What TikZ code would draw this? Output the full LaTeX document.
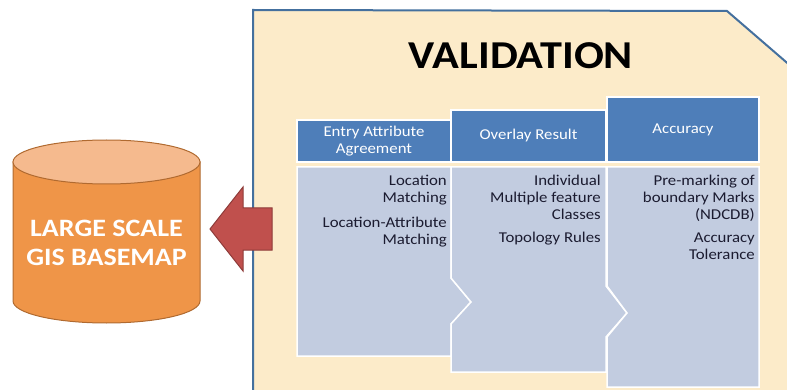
\documentclass[tikz,border=0pt]{standalone}
\usepackage{fontspec}
\setmainfont{Carlito}[FakeStretch=1.12]

\definecolor{panelfill}{HTML}{FCEBC9}
\definecolor{panelline}{HTML}{44709E}
\definecolor{headblue}{HTML}{4E7EB9}
\definecolor{bodyblue}{HTML}{C2CCE0}
\definecolor{itemtext}{HTML}{1B1B30}
\definecolor{cylbody}{HTML}{EF9548}
\definecolor{cyltop}{HTML}{F5BA8E}
\definecolor{cylline}{HTML}{B06A30}
\definecolor{arrowred}{HTML}{C0504D}
\definecolor{arrowline}{HTML}{8E3B39}

\begin{document}
\begin{tikzpicture}[x=1pt,y=-1pt,
  head/.style={fill=headblue,draw=white,line width=1.5pt,text=white,
    font=\fontsize{15}{17}\selectfont,align=center,inner sep=0pt},
  bodybox/.style={fill=bodyblue,draw=white,line width=1.5pt},
  item/.style={text=itemtext,font=\fontsize{15}{17}\selectfont,
    align=right,anchor=north east,inner sep=0pt}]
%\draw [help lines,black!20!white] (0,0) grid[step=50] (787,390);

\clip (0,0) rectangle (787,390);

\draw[fill=panelfill,draw=panelline,line width=2pt] (253,10) -- (727,11) -- (800,74) -- (800,400) -- (253,400) -- cycle;

\node (title) at (521,56) {\fontsize{39.5}{40}\selectfont\bfseries VALIDATION};

\draw[bodybox] (297,167) -- (451,167) -- (451,278) -- (471,302) -- (451,324) -- (451,356) -- (297,356) -- cycle;
\draw[bodybox] (451,167) -- (606,167) -- (606,286) -- (627,313) -- (606,337) -- (606,372) -- (451,372) -- (451,324) -- (471,302) -- (451,278) -- cycle;
\draw[bodybox] (607,167) -- (759,167) -- (759,387) -- (607,387) -- (607,337) -- (627,313) -- (607,286) -- cycle;

\node[head,minimum width=154pt,minimum height=42pt] (entry) at (374,141) {Entry Attribute\\Agreement};
\node[head,minimum width=155pt,minimum height=52pt] (overlay) at (528.5,136) {Overlay Result};
\node[head,minimum width=152pt,minimum height=65pt] (accuracy) at (683,129.5) {Accuracy};

\node[item] (locmatch) at (447,175) {Location\\Matching\\[8pt]Location-Attribute\\Matching};
\node[item] (indiv) at (601,175) {Individual\\Multiple feature\\Classes\\[6pt]Topology Rules};
\node[item] (premark) at (755,175) {Pre-marking of\\boundary Marks\\(NDCDB)\\[6pt]Accuracy\\Tolerance};

% basemap cylinder
\draw[fill=cylbody,draw=cylline,line width=1pt] (13,162) -- (13,301) arc[start angle=180,end angle=0,x radius=93.5,y radius=22] -- (200,162) -- cycle;
\draw[fill=cyltop,draw=cylline,line width=1pt] (106.5,162) ellipse[x radius=93.5,y radius=22];
\node[text=white,font=\fontsize{25}{29}\selectfont\bfseries,align=center] (gis) at (106.5,242.5) {LARGE SCALE\\GIS BASEMAP};

\coordinate (tip) at (210,229);
\draw[fill=arrowred,draw=arrowline,line width=1pt] (tip) -- ++(33,-42) -- ++(0,21) -- ++(29,0) -- ++(0,42) -- ++(-29,0) -- ++(0,21) -- cycle;

\end{tikzpicture}
\end{document}
